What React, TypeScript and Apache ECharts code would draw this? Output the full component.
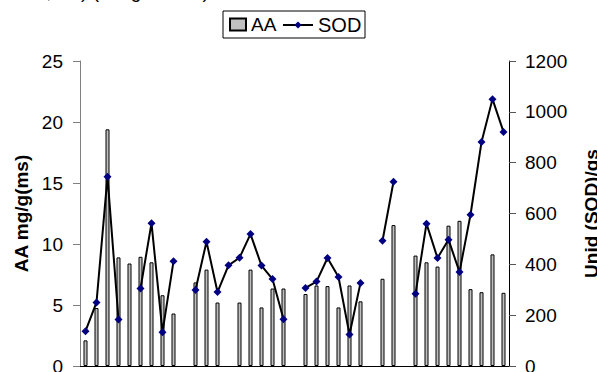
import React, { useEffect, useRef } from "react";
import * as echarts from "echarts";

const categories = [
  "1", "2", "3", "4", "5", "6", "7", "8", "9", "10",
  "11", "12", "13", "14", "15", "16", "17", "18", "19", "20",
  "21", "22", "23", "24", "25", "26", "27", "28", "29", "30",
  "31", "32", "33", "34", "35", "36", "37", "38", "39",
];

const aaValues: (number | null)[] = [
  2.1, 4.75, 19.4, 8.9, 8.4, 8.95, 8.5, 5.8, 4.3, null,
  6.85, 7.9, 5.2, null, 5.2, 7.9, 4.8, 6.35, 6.35, null,
  5.9, 6.6, 6.55, 4.8, 6.6, 5.3, null, 7.15, 11.55, null,
  9.05, 8.5, 8.15, 11.5, 11.9, 6.3, 6.05, 9.15, 6.0,
];

const sodValues: (number | null)[] = [
  137, 250, 745, 183, null, 305, 562, 133, 412, null,
  299, 489, 291, 396, 426, 519, 395, 342, 184, null,
  307, 332, 425, 350, 124, 327, null, 493, 725, null,
  284, 560, 425, 497, 370, 595, 881, 1050, 921,
];

const leftTicks = { min: 0, max: 25, interval: 5 };
const rightTicks = { min: 0, max: 1200, interval: 200 };

const FONT = "Liberation Sans, Arial, sans-serif";

export default function App() {
  const ref = useRef<HTMLDivElement>(null);

  useEffect(() => {
    document.body.style.margin = "0";
    if (!ref.current) return;
    const chart = echarts.init(ref.current, undefined, { renderer: "svg" });
    chart.setOption({
      animation: false,
      backgroundColor: "#ffffff",
      textStyle: { fontFamily: FONT },
      grid: {
        left: 80,
        right: 88,
        top: 61,
        bottom: 6,
        containLabel: false,
        outerBoundsMode: "none",
      },
      legend: [
        {
          data: [{ name: "AA", icon: "rect" }],
          left: 229,
          top: 15,
          padding: 0,
          itemWidth: 16,
          itemHeight: 12,
          textStyle: { fontSize: 19, color: "#000", fontFamily: FONT },
        },
        {
          data: ["SOD"],
          left: 282,
          top: 15,
          padding: 0,
          itemWidth: 30,
          itemHeight: 9,
          textStyle: { fontSize: 20, color: "#000", fontFamily: FONT },
        },
      ],
      graphic: [
        {
          type: "rect",
          shape: { x: 223, y: 11, width: 142, height: 27 },
          style: { fill: "none", stroke: "#000", lineWidth: 1 },
          z: 1,
        },
        {
          type: "text",
          x: -89,
          y: -9,
          style: {
            text: "Ácido Ascórbico, AA) (mL/g totales)",
            font: "19px " + FONT,
            fill: "#000",
            verticalAlign: "middle",
            align: "left",
          },
        },
      ],
      xAxis: {
        type: "category",
        data: categories,
        boundaryGap: true,
        axisLine: { lineStyle: { color: "#000", width: 1 } },
        axisTick: { show: false },
        axisLabel: { show: false },
      },
      yAxis: [
        {
          type: "value",
          ...leftTicks,
          position: "left",
          name: "AA mg/g(ms)",
          nameLocation: "middle",
          nameRotate: 90,
          nameGap: 47,
          nameTextStyle: { fontSize: 19, fontWeight: "bold", color: "#000", fontFamily: FONT },
          axisLine: { show: true, lineStyle: { color: "#808080", width: 1 } },
          axisTick: { show: true, inside: false, length: 7, lineStyle: { color: "#808080" } },
          axisLabel: { fontSize: 19, color: "#000", margin: 17, fontFamily: FONT },
          splitLine: { show: false },
        },
        {
          type: "value",
          ...rightTicks,
          position: "right",
          name: "Unid (SOD)/gs",
          nameLocation: "middle",
          nameRotate: 90,
          nameGap: 73,
          nameTextStyle: { fontSize: 19, fontWeight: "bold", color: "#000", fontFamily: FONT },
          axisLine: { show: true, lineStyle: { color: "#000", width: 1 } },
          axisTick: { show: true, inside: false, length: 7, lineStyle: { color: "#555" } },
          axisLabel: {
            fontSize: 19,
            color: "#000",
            margin: 16,
            fontFamily: FONT,
            formatter: (v: number) => String(v),
          },
          splitLine: { show: false },
        },
      ],
      series: [
        {
          name: "AA",
          type: "bar",
          data: aaValues,
          yAxisIndex: 0,
          barWidth: 4,
          itemStyle: { color: "#c0c0c0", borderColor: "#000", borderWidth: 1 },
          z: 2,
        },
        {
          name: "SOD",
          type: "line",
          data: sodValues,
          yAxisIndex: 1,
          connectNulls: false,
          symbol: "diamond",
          symbolSize: 8,
          showSymbol: true,
          showAllSymbol: true,
          lineStyle: { color: "#000", width: 2 },
          itemStyle: { color: "#000080", borderWidth: 0 },
          z: 3,
        },
      ],
    });
    return () => chart.dispose();
  }, []);

  return <div ref={ref} style={{ width: 597, height: 372 }} />;
}
